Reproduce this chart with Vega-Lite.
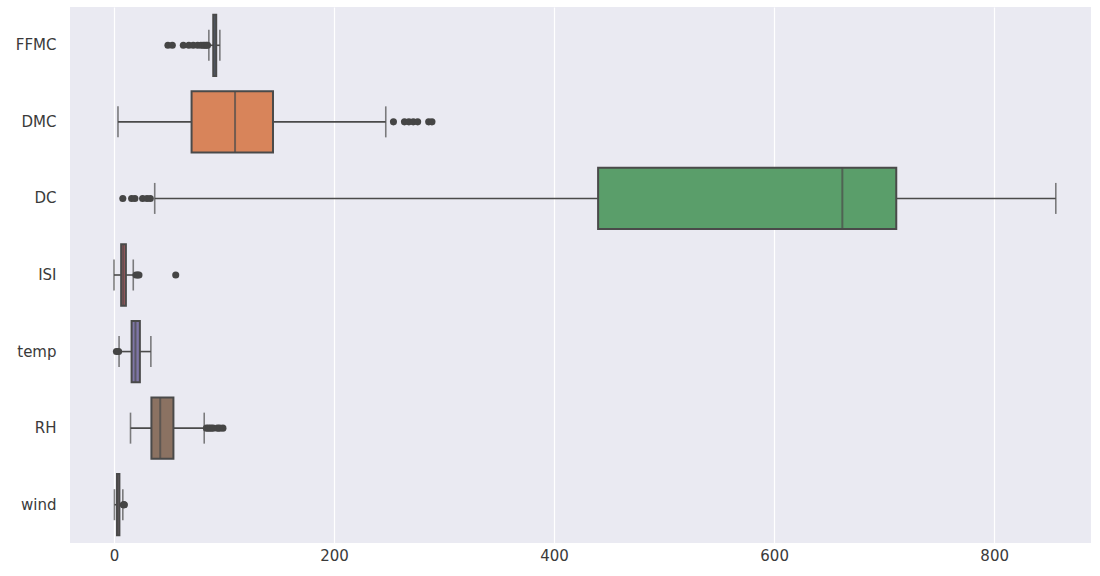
{
  "$schema": "https://vega.github.io/schema/vega-lite/v6.json",
  "width": 1021,
  "height": 536,
  "autosize": {"type": "none"},
  "padding": {"left": 70, "top": 7, "right": 9, "bottom": 33},
  "background": "white",
  "config": {
    "view": {"fill": "#EAEAF2", "stroke": null},
    "font": "DejaVu Sans"
  },
  "datasets": {
    "boxes": [
      {"var": "FFMC", "low": 86.2, "q1": 90.2, "med": 91.6, "q3": 92.9, "high": 96.2},
      {"var": "DMC", "low": 3.6, "q1": 70.5, "med": 110, "q3": 144.5, "high": 247},
      {"var": "DC", "low": 37, "q1": 440, "med": 662, "q3": 711, "high": 856},
      {"var": "ISI", "low": 0, "q1": 6.5, "med": 8.4, "q3": 10.8, "high": 17.5},
      {"var": "temp", "low": 4.6, "q1": 16, "med": 19.5, "q3": 23.5, "high": 33.5},
      {"var": "RH", "low": 15, "q1": 34, "med": 42, "q3": 54, "high": 82},
      {"var": "wind", "low": 0.4, "q1": 2.7, "med": 4.0, "q3": 4.9, "high": 8.0}
    ],
    "outliers": [
      {"var": "FFMC", "value": 49},
      {"var": "FFMC", "value": 53},
      {"var": "FFMC", "value": 63},
      {"var": "FFMC", "value": 68},
      {"var": "FFMC", "value": 72},
      {"var": "FFMC", "value": 76},
      {"var": "FFMC", "value": 79},
      {"var": "FFMC", "value": 81},
      {"var": "FFMC", "value": 82.5},
      {"var": "FFMC", "value": 84},
      {"var": "FFMC", "value": 85},
      {"var": "DMC", "value": 254},
      {"var": "DMC", "value": 264},
      {"var": "DMC", "value": 268},
      {"var": "DMC", "value": 272},
      {"var": "DMC", "value": 276},
      {"var": "DMC", "value": 286},
      {"var": "DMC", "value": 289},
      {"var": "DC", "value": 8},
      {"var": "DC", "value": 16},
      {"var": "DC", "value": 19},
      {"var": "DC", "value": 26},
      {"var": "DC", "value": 30},
      {"var": "DC", "value": 33},
      {"var": "ISI", "value": 20},
      {"var": "ISI", "value": 21.5},
      {"var": "ISI", "value": 22.7},
      {"var": "ISI", "value": 56.1},
      {"var": "temp", "value": 2.2},
      {"var": "temp", "value": 4.2},
      {"var": "RH", "value": 84},
      {"var": "RH", "value": 86},
      {"var": "RH", "value": 88},
      {"var": "RH", "value": 90},
      {"var": "RH", "value": 94},
      {"var": "RH", "value": 96},
      {"var": "RH", "value": 99},
      {"var": "wind", "value": 8.5},
      {"var": "wind", "value": 8.9},
      {"var": "wind", "value": 9.4}
    ]
  },
  "encoding": {
    "y": {
      "field": "var",
      "type": "nominal",
      "sort": ["FFMC", "DMC", "DC", "ISI", "temp", "RH", "wind"],
      "scale": {"paddingInner": 0, "paddingOuter": 0},
      "axis": {
        "title": null,
        "domain": false,
        "ticks": false,
        "grid": false,
        "labelFontSize": 15,
        "labelColor": "#3a3a3a",
        "labelPadding": 14
      }
    }
  },
  "layer": [
    {
      "data": {"name": "boxes"},
      "mark": {"type": "rule", "color": "#4a4a4a", "strokeWidth": 1.6},
      "encoding": {
        "x": {
          "field": "low",
          "type": "quantitative",
          "scale": {"domain": [-40, 888], "nice": false, "zero": false},
          "axis": {
            "title": null,
            "values": [0, 200, 400, 600, 800],
            "domain": false,
            "ticks": false,
            "grid": true,
            "gridColor": "white",
            "gridWidth": 1.2,
            "labelFontSize": 15,
            "labelColor": "#3a3a3a",
            "labelPadding": 5
          }
        },
        "x2": {"field": "high"}
      }
    },
    {
      "data": {"name": "boxes"},
      "mark": {"type": "tick", "color": "#4a4a4a", "thickness": 1.6, "size": 31, "orient": "vertical"},
      "encoding": {"x": {"field": "low", "type": "quantitative"}}
    },
    {
      "data": {"name": "boxes"},
      "mark": {"type": "tick", "color": "#4a4a4a", "thickness": 1.6, "size": 31, "orient": "vertical"},
      "encoding": {"x": {"field": "high", "type": "quantitative"}}
    },
    {
      "data": {"name": "boxes"},
      "mark": {"type": "bar", "height": {"band": 0.8}, "stroke": "#4a4a4a", "strokeWidth": 2, "opacity": 1},
      "encoding": {
        "x": {"field": "q1", "type": "quantitative"},
        "x2": {"field": "q3"},
        "fill": {
          "field": "var",
          "type": "nominal",
          "legend": null,
          "scale": {
            "domain": ["FFMC", "DMC", "DC", "ISI", "temp", "RH", "wind"],
            "range": ["#5975a4", "#d8845a", "#5a9e6a", "#a85a5e", "#7f76a6", "#8b7262", "#b88aac"]
          }
        }
      }
    },
    {
      "data": {"name": "boxes"},
      "mark": {"type": "tick", "color": "#4a4a4a", "thickness": 2, "size": 61, "orient": "vertical"},
      "encoding": {"x": {"field": "med", "type": "quantitative"}}
    },
    {
      "data": {"name": "outliers"},
      "mark": {"type": "point", "shape": "circle", "filled": true, "color": "#454545", "size": 50, "opacity": 1},
      "encoding": {"x": {"field": "value", "type": "quantitative"}}
    }
  ]
}
